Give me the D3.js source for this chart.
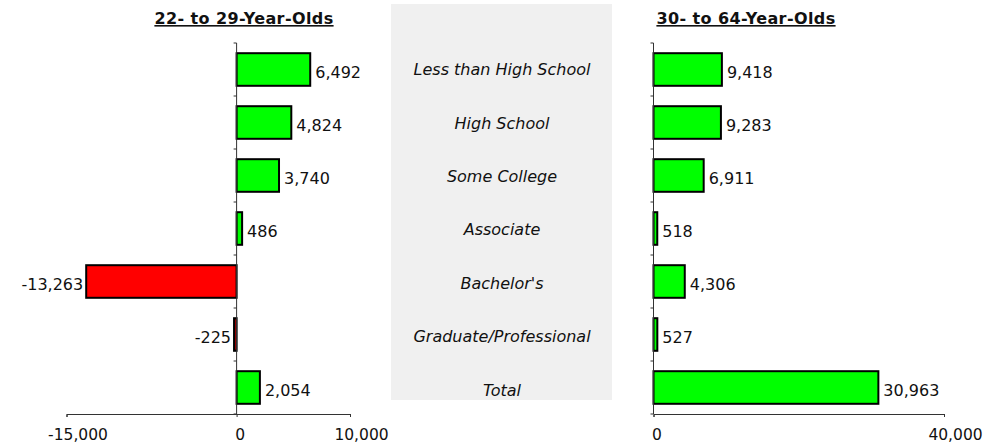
<!DOCTYPE html>
<html>
<head>
<meta charset="utf-8">
<script src="https://cdn.jsdelivr.net/npm/d3@7"></script>
<style>
  html, body { margin: 0; padding: 0; background: #fff; }
  svg { display: block; font-family: "DejaVu Sans", Verdana, sans-serif; }
</style>
</head>
<body>
<svg id="chart" width="1005" height="443"></svg>
<script>
const categories = ["Less than High School", "High School", "Some College", "Associate", "Bachelor's", "Graduate/Professional", "Total"];
const youngValues = [6492, 4824, 3740, 486, -13263, -225, 2054];
const olderValues = [9418, 9283, 6911, 518, 4306, 527, 30963];
const youngTicks = [-15000, 0, 10000];
const olderTicks = [0, 40000];
const youngTitle = "22- to 29-Year-Olds";
const olderTitle = "30- to 64-Year-Olds";

const svg = d3.select("#chart");
const fmt = v => d3.format(",")(v).replace("\u2212", "-");

const yTop = 43, yBot = 414;
const y = d3.scaleBand().domain(categories).range([yTop, yBot]).paddingInner(0.385).paddingOuter(0.1925);
const yLab = d3.scaleBand().domain(categories).range([43.6, 417.7]);
const step = y.step();

// middle panel
svg.append("rect").attr("x", 391).attr("y", 4).attr("width", 221).attr("height", 396).attr("fill", "#f0f0f0");
svg.selectAll("text.cat").data(categories).join("text")
  .attr("class", "cat")
  .attr("x", 502)
  .attr("y", d => yLab(d) + yLab.bandwidth() / 2)
  .attr("dy", "0.3em")
  .attr("text-anchor", "middle")
  .attr("font-style", "italic")
  .attr("font-size", 16)
  .attr("fill", "#111")
  .text(d => d);

function panel(values, domain, range, ticks, title, titleX) {
  const x = d3.scaleLinear().domain(domain).range(range);
  const g = svg.append("g");
  // title
  g.append("text")
    .attr("x", titleX).attr("y", 24)
    .attr("text-anchor", "middle")
    .attr("font-weight", "bold")
    .attr("font-size", 16)
    .attr("letter-spacing", 0.4)
    .attr("text-decoration", "underline")
    .attr("fill", "#111")
    .text(title);
  // bars
  const data = categories.map((c, i) => ({ c, v: values[i] }));
  g.selectAll("rect.bar").data(data).join("rect")
    .attr("class", "bar")
    .attr("x", d => x(Math.min(0, d.v)))
    .attr("y", d => y(d.c))
    .attr("width", d => Math.abs(x(d.v) - x(0)))
    .attr("height", y.bandwidth())
    .attr("fill", d => d.v < 0 ? "#ff0000" : "#00ff00")
    .attr("stroke", "#000")
    .attr("stroke-width", 2);
  // value labels
  g.selectAll("text.val").data(data).join("text")
    .attr("class", "val")
    .attr("x", d => d.v < 0 ? x(d.v) - 3 : x(d.v) + 5)
    .attr("y", d => y(d.c) + y.bandwidth() / 2)
    .attr("dy", "0.5em")
    .attr("text-anchor", d => d.v < 0 ? "end" : "start")
    .attr("font-size", 16)
    .attr("fill", "#111")
    .text(d => fmt(d.v));
  // vertical category axis at zero
  const x0 = x(0);
  g.append("line").attr("x1", x0).attr("x2", x0).attr("y1", yTop).attr("y2", yBot)
    .attr("stroke", "#333").attr("stroke-width", 1);
  const bounds = d3.range(categories.length + 1).map(i => yTop + i * step);
  g.selectAll("line.ctick").data(bounds).join("line")
    .attr("class", "ctick")
    .attr("x1", x0 - 3).attr("x2", x0).attr("y1", d => d).attr("y2", d => d)
    .attr("stroke", "#333").attr("stroke-width", 1);
  // bottom value axis
  const axis = d3.axisBottom(x).tickValues(ticks).tickSize(3).tickPadding(14).tickFormat(fmt);
  const ag = g.append("g").attr("transform", `translate(0,${yBot})`).call(axis);
  ag.select(".domain").attr("stroke", "#333");
  ag.selectAll(".tick line").attr("stroke", "#333");
  ag.selectAll(".tick text")
    .attr("font-size", 15.5)
    .attr("font-family", "'DejaVu Sans', Verdana, sans-serif")
    .attr("fill", "#111")
    .attr("dy", "0.6em")
    .attr("dx", d => d === 0 ? 3 : 11);
}

panel(youngValues, [-15000, 10000], [66.5, 350], youngTicks, youngTitle, 244);
panel(olderValues, [0, 40000], [653.5, 944], olderTicks, olderTitle, 746);
</script>
</body>
</html>
